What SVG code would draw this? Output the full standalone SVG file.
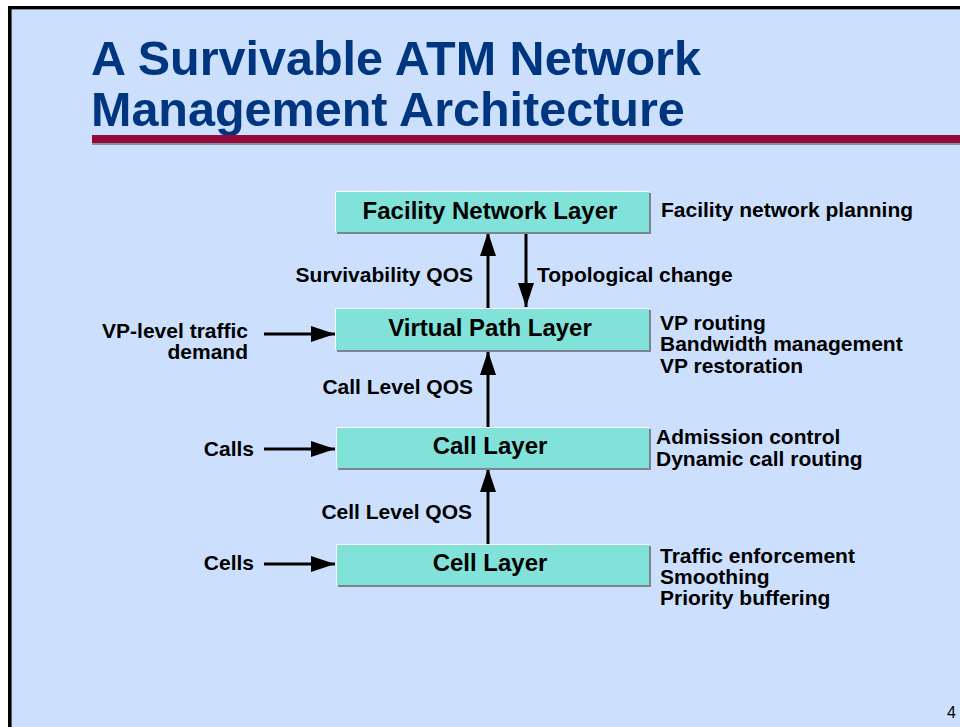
<svg xmlns="http://www.w3.org/2000/svg" width="960" height="727" viewBox="0 0 960 727">
  <defs>
    <style>
      .title { font-family: "Liberation Sans", Arial, sans-serif; font-weight: bold; font-size: 48.5px; fill: #00367F; }
      .box { fill: #80E2D8; }
      .shadow { fill: #7C8490; }
      .hl { stroke: #FFFFFF; stroke-width: 1; fill: none; }
      .blabel { font-family: "Liberation Sans", Arial, sans-serif; font-weight: bold; font-size: 24px; fill: #000; text-anchor: middle; }
      .lbl { font-family: "Liberation Sans", Arial, sans-serif; font-weight: bold; font-size: 21px; fill: #000; }
      .end { text-anchor: end; }
      .conn { stroke: #000; stroke-width: 3; fill: none; }
    </style>
    <marker id="ah" viewBox="0 0 24 16" refX="24" refY="8" markerWidth="24" markerHeight="16" markerUnits="userSpaceOnUse" orient="auto">
      <path d="M0,0 L24,8 L0,16 Z" fill="#000"/>
    </marker>
  </defs>

  <!-- page -->
  <rect x="0" y="0" width="960" height="727" fill="#FFFFFF"/>
  <rect x="8" y="6" width="952" height="721" fill="#CCE0FE"/>
  <line x1="8" y1="9.5" x2="960" y2="9.5" stroke="#8A8F98" stroke-width="1"/>
  <line x1="8" y1="7.5" x2="960" y2="7.5" stroke="#000" stroke-width="3"/>
  <line x1="9.5" y1="6" x2="9.5" y2="727" stroke="#000" stroke-width="3"/>
  <line x1="11.5" y1="9" x2="11.5" y2="727" stroke="#5A5F66" stroke-width="1"/>

  <!-- title -->
  <g id="title">
    <text class="title" x="91" y="75">A Survivable ATM Network</text>
    <text class="title" x="91" y="126">Management Architecture</text>
    <rect x="92" y="143" width="868" height="2" fill="#8A8F98"/>
    <rect x="92" y="135" width="868" height="8" fill="#930A3C"/>
  </g>

  <!-- connectors -->
  <g id="connectors">
    <line class="conn" x1="488" y1="308" x2="488" y2="232" marker-end="url(#ah)"/>
    <line class="conn" x1="526" y1="232" x2="526" y2="307" marker-end="url(#ah)"/>
    <line class="conn" x1="488" y1="427" x2="488" y2="351" marker-end="url(#ah)"/>
    <line class="conn" x1="488" y1="544" x2="488" y2="468" marker-end="url(#ah)"/>
    <line class="conn" x1="264" y1="334" x2="335" y2="334" marker-end="url(#ah)"/>
    <line class="conn" x1="264" y1="449" x2="335" y2="449" marker-end="url(#ah)"/>
    <line class="conn" x1="264" y1="564" x2="335" y2="564" marker-end="url(#ah)"/>
    <text class="lbl end" x="473" y="282">Survivability QOS</text>
    <text class="lbl" x="537" y="282">Topological change</text>
    <text class="lbl end" x="473" y="394">Call Level QOS</text>
    <text class="lbl end" x="472" y="519">Cell Level QOS</text>
  </g>

  <!-- layers -->
  <g id="facility-layer">
    <rect class="shadow" x="337" y="193" width="314" height="41"/>
    <rect class="box" x="335" y="191" width="314" height="41"/>
    <path class="hl" d="M335.5,232 V191.5 H649"/>
    <text class="blabel" x="490" y="219">Facility Network Layer</text>
    <text class="lbl" x="661" y="217">Facility network planning</text>
  </g>

  <g id="vp-layer">
    <rect class="shadow" x="337" y="310" width="314" height="42"/>
    <rect class="box" x="335" y="308" width="314" height="42"/>
    <path class="hl" d="M335.5,350 V308.5 H649"/>
    <text class="blabel" x="490" y="336">Virtual Path Layer</text>
    <text class="lbl" x="660" y="330">VP routing</text>
    <text class="lbl" x="660" y="351">Bandwidth management</text>
    <text class="lbl" x="660" y="373">VP restoration</text>
    <text class="lbl end" x="248" y="338">VP-level traffic</text>
    <text class="lbl end" x="248" y="359">demand</text>
  </g>

  <g id="call-layer">
    <rect class="shadow" x="338" y="429" width="313" height="41"/>
    <rect class="box" x="336" y="427" width="313" height="41"/>
    <path class="hl" d="M336.5,468 V427.5 H649"/>
    <text class="blabel" x="490" y="454">Call Layer</text>
    <text class="lbl" x="656" y="444">Admission control</text>
    <text class="lbl" x="656" y="466">Dynamic call routing</text>
    <text class="lbl end" x="254" y="456">Calls</text>
  </g>

  <g id="cell-layer">
    <rect class="shadow" x="338" y="546" width="313" height="41"/>
    <rect class="box" x="336" y="544" width="313" height="41"/>
    <path class="hl" d="M336.5,585 V544.5 H649"/>
    <text class="blabel" x="490" y="571">Cell Layer</text>
    <text class="lbl" x="660" y="563">Traffic enforcement</text>
    <text class="lbl" x="660" y="584">Smoothing</text>
    <text class="lbl" x="660" y="605">Priority buffering</text>
    <text class="lbl end" x="254" y="570">Cells</text>
  </g>

  <text x="956" y="718" font-family="Liberation Sans, Arial, sans-serif" font-size="16" fill="#000" text-anchor="end">4</text>
</svg>
